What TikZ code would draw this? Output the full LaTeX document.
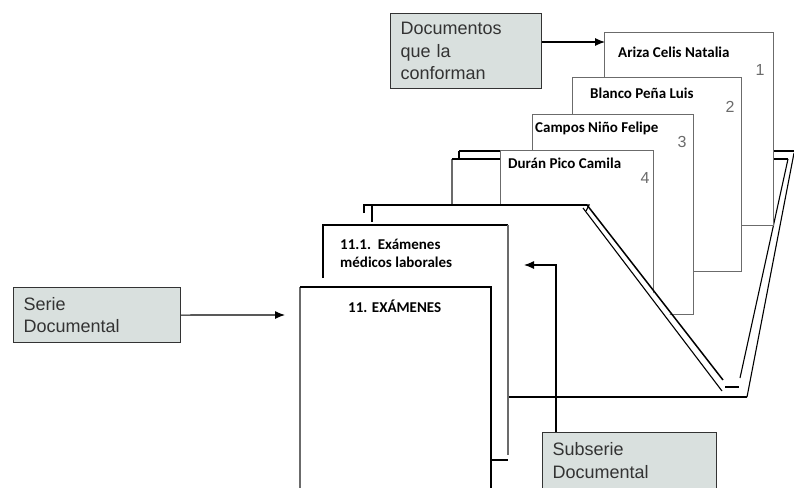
\documentclass[tikz,border=0pt]{standalone}
\usepackage{fontspec}
\setmainfont{Liberation Sans}
\newfontfamily\calibri{Carlito}
\usetikzlibrary{arrows.meta}
\definecolor{callout}{rgb}{0.85, 0.88, 0.87}
\definecolor{sheetgray}{rgb}{0.42, 0.42, 0.42}
\definecolor{ink}{rgb}{0.2, 0.2, 0.2}

\begin{document}
\begin{tikzpicture}[x=1pt,y=-1pt,
        sheet/.style={draw=sheetgray,line width=1.1pt,fill=white,anchor=north west,inner sep=0pt},
        sheetline/.style={draw=sheetgray,line width=1.1pt},
        rim/.style={draw=black,line width=2pt},
        rimthin/.style={draw=black,line width=1.1pt},
        callbox/.style={draw=ink,line width=1.1pt,fill=callout,text=ink,anchor=north west,
            font=\fontsize{18}{22.5}\selectfont,align=left,inner xsep=10pt},
        docname/.style={font=\calibri\bfseries\fontsize{15}{18}\selectfont,inner sep=0pt},
        docnum/.style={font=\fontsize{16}{18}\selectfont,text=sheetgray,inner sep=0pt,anchor=base},
        pointer/.style={-{Latex[length=10pt,width=8pt]},line width=1.1pt,black}]
        \clip (0,0) rectangle (794,487);
        \fill[white] (0,0) rectangle (794,487);

        \draw[rim] (459,151) -- (794,151);
        \draw[rimthin] (459,151) -- (459,159);
        \draw[sheetline] (452,204) -- (452,159);
        \draw[rimthin] (452,159) -- (788,159);
        \draw[rimthin] (788,159) -- (740,378);
        \draw[rimthin] (794,153) -- (747,397);

        \node[sheet,minimum width=169pt,minimum height=193pt] (doc1) at (604,32) {};
        \node[sheet,minimum width=169pt,minimum height=194pt] (doc2) at (572,77) {};
        \node[sheet,minimum width=161pt,minimum height=200pt] (doc3) at (532,114) {};
        \node[sheet,minimum width=153pt,minimum height=150pt] (doc4) at (500,150) {};

        \node[docname,anchor=base west] (name1) at (618,58) {Ariza Celis Natalia};
        \node[docname,anchor=base west] (name2) at (590,98) {Blanco Peña Luis};
        \node[docname,anchor=base west] (name3) at (535,132) {Campos Niño Felipe};
        \node[docname,anchor=base west] (name4) at (508,168) {Durán Pico Camila};
        \node[docnum] (num1) at (760,75) {1};
        \node[docnum] (num2) at (730,112) {2};
        \node[docnum] (num3) at (682,147) {3};
        \node[docnum] (num4) at (645,183) {4};

        \path[fill=white] (364,205) -- (587,205) -- (723,385) -- (747,397) -- (364,397) -- cycle;
        \draw[rim] (364,213) -- (364,205) -- (587,205);
        \draw[rimthin] (372,205) -- (372,222);
        \draw[rimthin] (583,205) -- (589,205) -- (586,211);
        \draw[line width=1.5pt] (587,205) -- (723,380);
        \draw[rimthin] (583,208) -- (722,391);
        \draw[rim] (725,387) -- (739,387);
        \draw[rim] (508,397) -- (747,397);

        \path[fill=white] (323,225) rectangle (508,455);
        \draw[rim] (323,278) -- (323,225) -- (508,225);
        \draw[sheetline] (508,225) -- (508,455);
        \draw[rimthin] (491,460) -- (508,460);
        \node[docname,align=left,anchor=north west] (subname) at (340,239) {11.1.\ \ Exámenes\\médicos laborales};

        \path[fill=white] (300,287) rectangle (491,490);
        \draw[sheetline] (300,490) -- (300,287);
        \draw[rim] (300,287) -- (491,287) -- (491,490);
        \node[docname,anchor=base west] (seriename) at (348,312) {11. EXÁMENES};

        \node[callbox,text width=131pt,minimum height=75pt] (conf) at (390,13) {Documentos\\que la\\conforman};
        \node[callbox,text width=147pt,minimum height=55pt] (serie) at (13,287) {Serie\\Documental};
        \node[callbox,text width=154pt,inner ysep=10pt] (subs) at (542,432) {Subserie\\Documental\\\strut};

        \coordinate (confIn) at (605,42);
        \coordinate (serieIn) at (285,315);
        \coordinate (subsBend) at (556,265);
        \coordinate (subsIn) at (524,265);
        \draw[pointer] (conf.east |- confIn) -- (confIn);
        \draw[pointer] (serie.east) -- (serieIn);
        \draw[pointer] (subsBend |- subs.north) -- (subsBend) -- (subsIn);
    \end{tikzpicture}
\end{document}
